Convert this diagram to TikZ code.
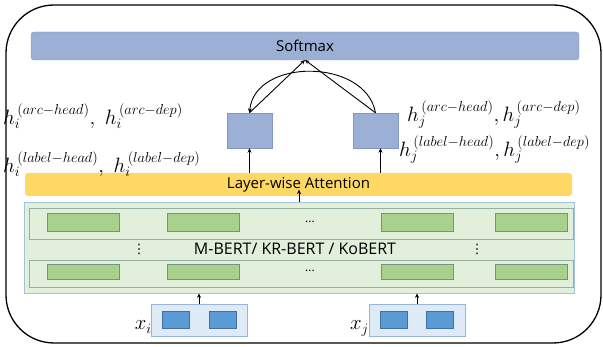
\documentclass[tikz,border=0pt]{standalone}
\usepackage{fontspec}
\newfontfamily\diagfont{Open Sans}
\newfontfamily\dotfont{DejaVu Sans}
\usetikzlibrary{arrows.meta}
\DeclareMathSizes{20.74}{20.74}{15.5}{11}
\definecolor{SoftClr}{RGB}{156,175,213}
\definecolor{SoftLine}{RGB}{130,152,196}
\definecolor{AttnClr}{RGB}{255,216,100}
\definecolor{BertClr}{RGB}{226,239,218}
\definecolor{BertLine}{RGB}{160,196,222}
\definecolor{RowLine}{RGB}{150,175,160}
\definecolor{CellClr}{RGB}{169,209,142}
\definecolor{CellLine}{RGB}{110,150,130}
\definecolor{InClr}{RGB}{222,235,247}
\definecolor{InLine}{RGB}{150,180,220}
\definecolor{TokClr}{RGB}{91,155,213}
\definecolor{TokLine}{RGB}{65,113,156}

\newcommand{\hsup}[2]{h_{#1}^{\mkern3mu(#2)}}

\tikzset{
  bar/.style={rounded corners=3pt,inner sep=0pt,outer sep=0pt,
    font=\diagfont\fontsize{15}{18}\selectfont},
  softbar/.style={bar,fill=SoftClr,draw=SoftLine,line width=0.4pt},
  attnbar/.style={bar,fill=AttnClr},
  hbox/.style={fill=SoftClr,draw=SoftLine,line width=0.4pt,inner sep=0pt,
    minimum width=45pt,minimum height=35pt},
  bertbox/.style={fill=BertClr,draw=BertLine,line width=0.8pt,inner sep=0pt,
    minimum width=550pt,minimum height=91pt},
  bertrow/.style={draw=RowLine,line width=0.6pt,inner sep=0pt,minimum width=544pt},
  cell/.style={fill=CellClr,draw=CellLine,line width=0.6pt,inner sep=0pt,
    minimum width=72pt},
  inbox/.style={fill=InClr,draw=InLine,line width=0.5pt,inner sep=0pt,
    minimum width=96pt,minimum height=32pt},
  tok/.style={fill=TokClr,draw=TokLine,line width=0.5pt,inner sep=0pt,
    minimum width=27pt,minimum height=17pt},
  vdot/.style={inner sep=0pt,font=\dotfont\fontsize{13}{14}\selectfont},
  hlabel/.style={anchor=base west,inner sep=0pt,font=\fontsize{20.74}{24}\selectfont},
  xlabel/.style={anchor=base east,inner sep=0pt,font=\fontsize{20.74}{24}\selectfont},
  conn/.style={->,line width=0.9pt}
}

\begin{document}
\begin{tikzpicture}[x=1pt,y=-1pt,>={Stealth[length=4.5pt,width=4pt]}]
\useasboundingbox (0,0) rectangle (603,347);

\draw[line width=1.3pt,rounded corners=48pt] (6,5) rectangle (601,343);

\node[softbar,minimum width=548pt,minimum height=28pt] (softmax) at (305,46) {Softmax};
\node[attnbar,minimum width=547pt,minimum height=23pt] (attn) at (298.5,184.5) {Layer-wise Attention};

\node[hbox] (hi) at (249.5,130.5) {};
\node[hbox] (hj) at (375.5,130.5) {};

\node[bertbox] (bert) at (299,247.5) {};
\node[bertrow,minimum height=31pt] (rowtop) at (301,223.5) {};
\node[bertrow,minimum height=27pt] (rowbot) at (301,273.5) {};

\foreach \cx [count=\k] in {83,203,417.5,531.5}{
  \node[cell,minimum height=18pt] (top\k) at (\cx,222.5) {};
  \node[cell,minimum height=15pt] (bot\k) at (\cx,271.5) {};
}
\node[font=\diagfont\fontsize{12}{14}\selectfont] (topdots) at (310,222) {...};
\node[font=\diagfont\fontsize{12}{14}\selectfont] (botdots) at (310,271) {...};
\node[vdot] (vdotsl) at (139,249) {⋮};
\node[vdot] (vdotsr) at (477,249) {⋮};
\node[font=\diagfont\fontsize{16}{18}\selectfont] (bertname) at (295,249) {M-BERT/ KR-BERT / KoBERT};

\node[inbox] (xi) at (199,320) {};
\node[inbox] (xj) at (417,320) {};
\node[tok] (xia) at (175.5,319.5) {};
\node[tok] (xib) at (222.5,319.5) {};
\node[tok] (xja) at (393.5,319.5) {};
\node[tok] (xjb) at (440,319.5) {};
\node[xlabel] (xil) at (152,330) {$x_i$};
\node[xlabel] (xjl) at (369,330) {$x_j$};

\node[hlabel] (hiarc) at (3,125) {$\hsup{i}{arc-head},\ \hsup{i}{arc-dep}$};
\node[hlabel] (hilab) at (3,173) {$\hsup{i}{label-head},\ \hsup{i}{label-dep}$};
\node[hlabel] (hjarc) at (407,122) {$\hsup{j}{arc-head},\hsup{j}{arc-dep}$};
\node[hlabel] (hjlab) at (399,157) {$\hsup{j}{label-head},\hsup{j}{label-dep}$};

\draw[conn] (xi.north) -- (xi.north |- bert.south);
\draw[conn] (xj.north) -- (xj.north |- bert.south);
\draw[conn] (bert.north) -- ++(0,-12);
\draw[conn] (attn.north -| hi.south) -- (hi.south);
\draw[conn] ([xshift=5pt]hj.south |- attn.north) -- ([xshift=5pt]hj.south);
\draw[conn] (hi.north) -- (softmax.south);
\draw[conn] (hj.north) -- (softmax.south);
\draw[conn] (hj.north) .. controls +(-10,-55) and +(5,-55) .. (hi.north);

\end{tikzpicture}
\end{document}
